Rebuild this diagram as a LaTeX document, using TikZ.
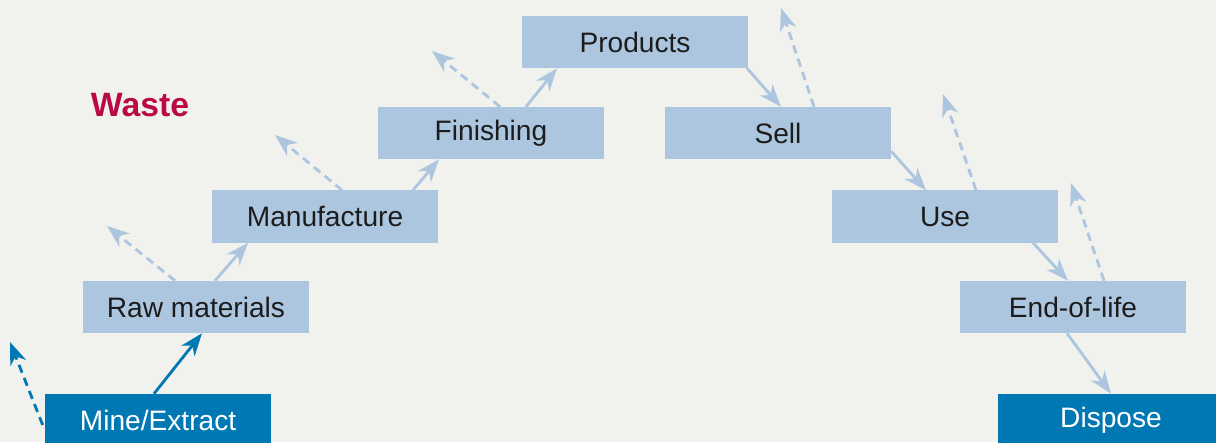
\documentclass[tikz,border=0pt]{standalone}
\usepackage{fontspec}
\setmainfont{Liberation Sans}
\usetikzlibrary{arrows.meta,calc}

\definecolor{fondo}{HTML}{F1F1ED}
\definecolor{celeste}{HTML}{ADC6E0}
\definecolor{azul}{HTML}{0078B4}
\definecolor{carmin}{HTML}{BA0A45}
\definecolor{texto}{HTML}{1C1C1C}

\tikzset{
  etapa/.style={fill=celeste, text=texto, minimum width=5.65cm, minimum height=1.3cm,
    inner sep=0pt, font=\fontsize{20}{24}\selectfont},
  extremo/.style={etapa, fill=azul, text=white},
  flujo/.style={-{Stealth[length=16pt,width=12pt,inset=5pt]}, line width=2pt, celeste},
  residuo/.style={flujo, dash pattern=on 6pt off 4pt}
}

\begin{document}
\begin{tikzpicture}[x=0.025cm, y=-0.025cm]
        % Fondo y recorte
        \fill[fondo] (0,0) rectangle (1216,442);
        \useasboundingbox (0,0) rectangle (1216,442);
        \clip (0,0) rectangle (1216,442);

        % Etapas del ciclo
        \node[extremo] (mine) at (158,420) {Mine/Extract};
        \node[etapa] (raw) at (196,307) {Raw materials};
        \node[etapa] (manu) at (325,216.5) {Manufacture};
        \node[etapa] (fin) at (491,133) {Finishing};
        \node[etapa] (prod) at (635,42) {Products};
        \node[etapa] (sell) at (778,133) {Sell};
        \node[etapa] (use) at (945,216.5) {Use};
        \node[etapa] (eol) at (1073,307) {End-of-life};
        \node[extremo] (disp) at (1111,420) {Dispose};

        % Etiqueta
        \node[carmin, font=\fontsize{24}{28}\selectfont\bfseries] (waste) at (140,105) {Waste};

        % Flechas del ciclo
        \draw[flujo, azul] ($(mine.north)+(-4,0)$) -- ($(raw.south)+(6,0)$);
        \draw[flujo] ($(raw.north)+(19,0)$) -- ($(manu.south)+(-77,0)$);
        \draw[flujo] ($(manu.north)+(88,0)$) -- ($(fin.south)+(-52,0)$);
        \draw[flujo] ($(fin.north)+(35,0)$) -- ($(prod.south)+(-78,0)$);
        \draw[flujo] ($(prod.south)+(112,0)$) -- ($(sell.north)+(3,0)$);
        \draw[flujo] ($(sell.south east)+(0,-8)$) -- ($(use.north)+(-19,0)$);
        \draw[flujo] ($(use.south)+(88,0)$) -- ($(eol.north)+(-5,0)$);
        \draw[flujo] ($(eol.south)+(-6,0)$) -- (disp.north);

        % Residuos de cada etapa
        \coordinate (w1) at (10,342);
        \coordinate (w2) at (107,226);
        \coordinate (w3) at (275,135);
        \coordinate (w4) at (432,51);
        \coordinate (w5) at (781,8);
        \coordinate (w6) at (943,94);
        \coordinate (w7) at (1071,183);
        \draw[residuo, azul] ($(mine.west)+(-2,5)$) -- (w1);
        \draw[residuo] ($(raw.north)+(-21,0)$) -- (w2);
        \draw[residuo] ($(manu.north)+(17,0)$) -- (w3);
        \draw[residuo] ($(fin.north)+(9,0)$) -- (w4);
        \draw[residuo] ($(sell.north)+(36,0)$) -- (w5);
        \draw[residuo] ($(use.north)+(31,0)$) -- (w6);
        \draw[residuo] ($(eol.north)+(31,0)$) -- (w7);
    \end{tikzpicture}
\end{document}
